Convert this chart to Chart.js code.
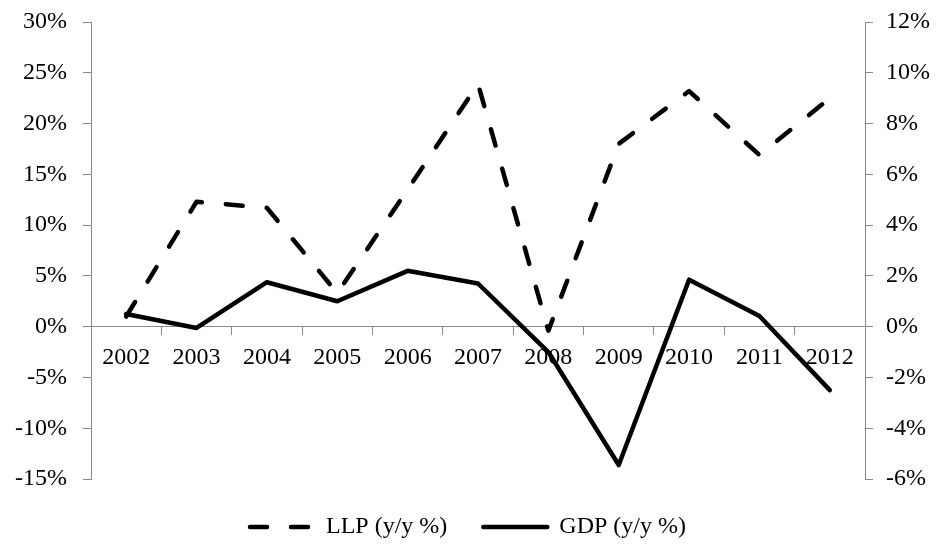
<!DOCTYPE html>
<html>
<head>
<meta charset="utf-8">
<script src="https://cdn.jsdelivr.net/npm/chart.js@4/dist/chart.umd.min.js"></script>
<style>
  body { margin: 0; background: #fff; }
  #wrap { width: 936px; height: 549px; }
</style>
</head>
<body>
<div id="wrap"><canvas id="llpChart"></canvas></div>
<script>
const years = ["2002", "2003", "2004", "2005", "2006", "2007", "2008", "2009", "2010", "2011", "2012"]
const llpValues = [1.0, 12.3, 11.7, 3.3, 13.5, 23.9, -0.4, 18.0, 23.2, 16.9, 22.5]
const gdpValues = [0.5, -0.05, 1.75, 1.0, 2.2, 1.7, -1.0, -5.45, 1.85, 0.42, -2.5]
const seriesNames = ["LLP (y/y %)", "GDP (y/y %)"]

const font = { family: "'Liberation Serif', 'Times New Roman', serif", size: 24 }
const axisColor = '#898989'

// legend with point style does not carry the dash, so copy it from the dataset
const legendLabels = chart => {
  const items = Chart.defaults.plugins.legend.labels.generateLabels(chart)
  items.forEach(item => {
    const ds = chart.data.datasets[item.datasetIndex]
    item.lineDash = ds.borderDash || []
    item.lineCap = ds.borderCapStyle
    item.pointStyle = 'line'
  })
  return items
}

// fixed axis width, no extra room for the half labels at the ends
const fixAxis = width => scale => {
  scale.width = width
  scale.paddingTop = 0
  scale.paddingBottom = 0
}

new Chart(document.getElementById("llpChart"), {
  type: 'line',
  data: {
    labels: years,
    datasets: [{
      label: seriesNames[0],
      data: llpValues,
      yAxisID: 'y',
      borderColor: '#000',
      backgroundColor: '#000',
      borderWidth: 4.5,
      borderDash: [17, 24],
      borderCapStyle: 'round',
      borderJoinStyle: 'round',
      pointRadius: 0,
      tension: 0
    }, {
      label: seriesNames[1],
      data: gdpValues,
      yAxisID: 'y1',
      borderColor: '#000',
      backgroundColor: '#000',
      borderWidth: 4.5,
      borderCapStyle: 'round',
      borderJoinStyle: 'round',
      pointRadius: 0,
      tension: 0
    }]
  },
  options: {
    responsive: true,
    maintainAspectRatio: false,
    animation: false,
    layout: { padding: { top: 22, left: 0, right: 0, bottom: 0 } },
    scales: {
      x: {
        position: { y: 0 },
        offset: true,
        grid: { display: true, offset: true, drawOnChartArea: false, drawTicks: true, tickLength: 8, color: axisColor },
        border: { display: true, color: axisColor, width: 1 },
        ticks: { color: '#000', font: font, padding: 9, maxRotation: 0, autoSkip: false }
      },
      y: {
        position: 'left',
        min: -15,
        max: 30,
        afterFit: fixAxis(91),
        grid: { drawOnChartArea: false, drawTicks: true, tickLength: 8, color: axisColor },
        border: { display: true, color: axisColor, width: 1 },
        ticks: { stepSize: 5, color: '#000', font: font, padding: 16, callback: v => v + '%' }
      },
      y1: {
        position: 'right',
        min: -6,
        max: 12,
        afterFit: fixAxis(71),
        grid: { drawOnChartArea: false, drawTicks: true, tickLength: 8, color: axisColor },
        border: { display: true, color: axisColor, width: 1 },
        ticks: { stepSize: 2, color: '#000', font: font, padding: 13, callback: v => v + '%' }
      }
    },
    plugins: {
      legend: {
        position: 'bottom',
        maxHeight: 72,
        labels: {
          usePointStyle: true,
          pointStyle: 'line',
          pointStyleWidth: 64,
          padding: 36,
          color: '#000',
          font: font,
          generateLabels: legendLabels
        }
      },
      tooltip: { enabled: false }
    }
  }
})
</script>
</body>
</html>
